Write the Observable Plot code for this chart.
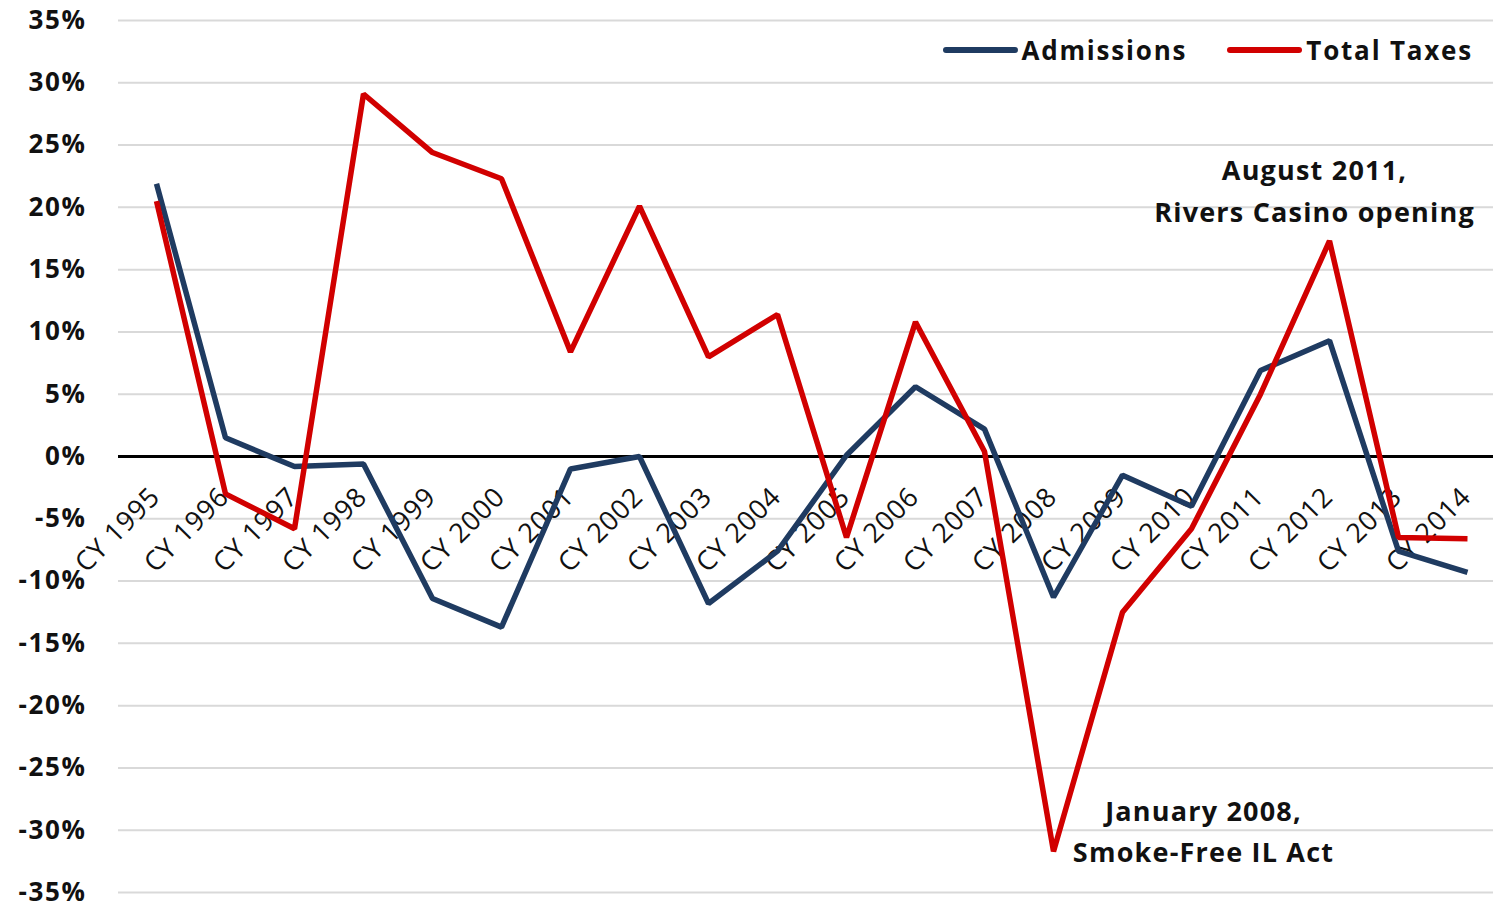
<!DOCTYPE html>
<html>
<head>
<meta charset="utf-8">
<script src="https://cdn.jsdelivr.net/npm/d3@7"></script>
<script src="https://cdn.jsdelivr.net/npm/@observablehq/plot@0.6"></script>
<style>
  html, body { margin: 0; padding: 0; background: #fff; }
  #wrap { position: relative; width: 1493px; height: 909px; font-family: "Open Sans", sans-serif; }
  .chart g[aria-label="y-axis tick label"] text { font-weight: 700; letter-spacing: 1.6px; }
  .chart g.xlab text { letter-spacing: 0.8px; }
  .chart g.annot text { letter-spacing: 1.2px; }
  #legend { position: absolute; top: 32px; right: 20px; display: flex; align-items: center;
            font-family: "Open Sans", sans-serif; font-weight: 700; font-size: 26px; color: #111; letter-spacing: 1.8px; }
  #legend .item { display: flex; align-items: center; margin-left: 40px; }
  #legend .swatch { display: inline-block; width: 75px; height: 6px; border-radius: 3px; margin-right: 4px; }
</style>
</head>
<body>
<div id="wrap"></div>
<script>
const years = ["CY 1995","CY 1996","CY 1997","CY 1998","CY 1999","CY 2000","CY 2001","CY 2002","CY 2003","CY 2004",
               "CY 2005","CY 2006","CY 2007","CY 2008","CY 2009","CY 2010","CY 2011","CY 2012","CY 2013","CY 2014"];
const admissions = [21.9, 1.5, -0.8, -0.6, -11.4, -13.7, -1.0, 0.0, -11.8, -7.6,
                    0.1, 5.6, 2.2, -11.3, -1.5, -4.0, 6.9, 9.3, -7.6, -9.3];
const totalTaxes = [20.5, -3.0, -5.8, 29.1, 24.4, 22.3, 8.4, 20.1, 8.0, 11.4,
                    -6.5, 10.8, 0.4, -31.7, -12.5, -5.8, 5.0, 17.3, -6.5, -6.6];
const yTicks = [-35, -30, -25, -20, -15, -10, -5, 0, 5, 10, 15, 20, 25, 30, 35];
const seriesNames = ["Admissions", "Total Taxes"];
const seriesColors = ["#1f3b61", "#d10000"];
const annotationYears = ["CY 2012", "CY 2008"];
const annotationValues = [17.3, -31.7];
const annotationTexts = ["August 2011,\nRivers Casino opening", "January 2008,\nSmoke-Free IL Act"];

const chart = Plot.plot({
  width: 1493,
  height: 909,
  marginTop: 20,
  marginBottom: 17,
  marginLeft: 118,
  marginRight: 0,
  className: "chart",
  style: { fontFamily: "Open Sans, sans-serif", color: "#111", background: "#fff" },
  x: { type: "point", domain: years, range: [155, 1467], padding: 0, axis: null },
  y: { domain: [-35, 35], ticks: yTicks, label: null },
  marks: [
    Plot.ruleY(yTicks.filter(d => d !== 0), { stroke: "#d9d9d9", strokeWidth: 2 }),
    Plot.axisY(yTicks, { tickSize: 0, tickPadding: 32, fontSize: 26, tickFormat: d => `${d}%`, label: null }),
    Plot.ruleY([0], { stroke: "#000", strokeWidth: 3 }),
    Plot.text(years, { x: d => d, y: 0, text: d => d, rotate: -45, textAnchor: "end", lineAnchor: "bottom",
                       dx: 5, dy: 42, fontSize: 27, fill: "#111", className: "xlab" }),
    Plot.line(years, { x: d => d, y: (d, i) => admissions[i], stroke: seriesColors[0], strokeWidth: 5.5,
                       strokeLinejoin: "miter", strokeLinecap: "butt" }),
    Plot.line(years, { x: d => d, y: (d, i) => totalTaxes[i], stroke: seriesColors[1], strokeWidth: 5.5,
                       strokeLinejoin: "miter", strokeLinecap: "butt" }),
    Plot.text([annotationTexts[0]], { x: [annotationYears[0]], y: [annotationValues[0]], text: d => d,
                       textAnchor: "middle", lineAnchor: "bottom", lineHeight: 1.55, dx: -15, dy: -19,
                       fontSize: 27, fontWeight: 700, fill: "#111", className: "annot" }),
    Plot.text([annotationTexts[1]], { x: [annotationYears[1]], y: [annotationValues[1]], text: d => d,
                       textAnchor: "middle", lineAnchor: "bottom", lineHeight: 1.55, dx: 150, dy: 11,
                       fontSize: 27, fontWeight: 700, fill: "#111", className: "annot" })
  ]
});
const wrap = document.getElementById("wrap");
wrap.appendChild(chart);

const legend = document.createElement("div");
legend.id = "legend";
seriesNames.forEach((name, i) => {
  const item = document.createElement("div");
  item.className = "item";
  const sw = document.createElement("span");
  sw.className = "swatch";
  sw.style.background = seriesColors[i];
  const label = document.createElement("span");
  label.textContent = name;
  item.appendChild(sw);
  item.appendChild(label);
  legend.appendChild(item);
});
wrap.appendChild(legend);
</script>
</body>
</html>
